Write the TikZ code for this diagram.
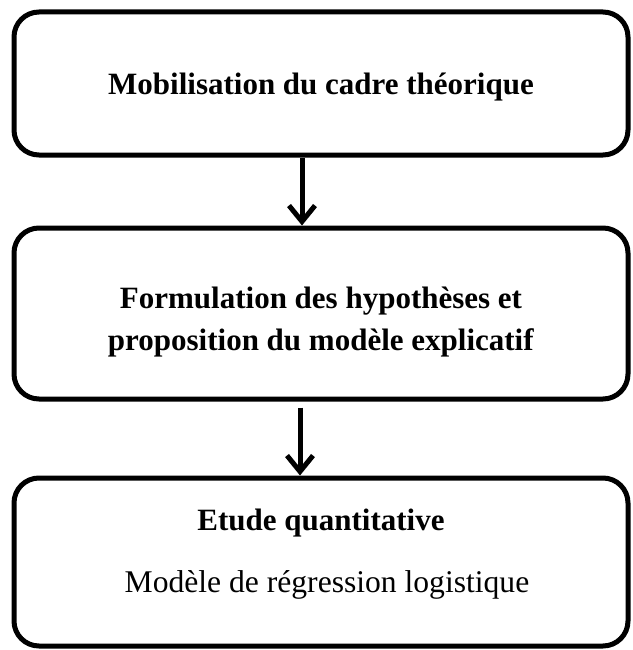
\documentclass[tikz,border=0pt]{standalone}
\usepackage{fontspec}
\setmainfont{Liberation Serif}
\usetikzlibrary{calc}
\usetikzlibrary{arrows.meta}

\tikzset{etape/.style={draw=black, line width=5pt, rounded corners=25pt, minimum width=614pt}}
\tikzset{texte/.style={anchor=base, inner sep=0pt, font=\fontsize{31}{42}\selectfont}}
\tikzset{fleche/.style={black, line width=5pt, -{Straight Barb[length=16pt,width=26pt]}}}

\begin{document}
\begin{tikzpicture} [x=1pt, y=-1pt]
\useasboundingbox (0,0) rectangle (632,650);
\node[etape, minimum height=143pt] (cadre) at (321,83.5) {};
\node[etape, minimum height=171pt] (hypo) at (321,313.5) {};
\node[etape, minimum height=168pt] (etude) at (321,562) {};
\node[texte] (cadre-t) at ($(cadre.center)+(0,11.5)$) {\textbf{Mobilisation du cadre théorique}};
\node[texte] (hypo-t1) at ($(hypo.center)+(0,-5.5)$) {\textbf{Formulation des hypothèses et}};
\node[texte] (hypo-t2) at ($(hypo.center)+(0,36.5)$) {\textbf{proposition du modèle explicatif}};
\node[texte] (etude-t1) at ($(etude.center)+(0,-32)$) {\textbf{Etude quantitative}};
\node[texte, font=\fontsize{31.6}{42}\selectfont] (etude-t2) at ($(etude.center)+(6,30)$) {Modèle de régression logistique};
\draw[fleche] ([xshift=-19pt]cadre.south) -- ([xshift=-19pt]hypo.north);
\draw[fleche] ([xshift=-21pt,yshift=-6pt]hypo.south) -- ([xshift=-21pt]etude.north);
\end{tikzpicture}
\end{document}
